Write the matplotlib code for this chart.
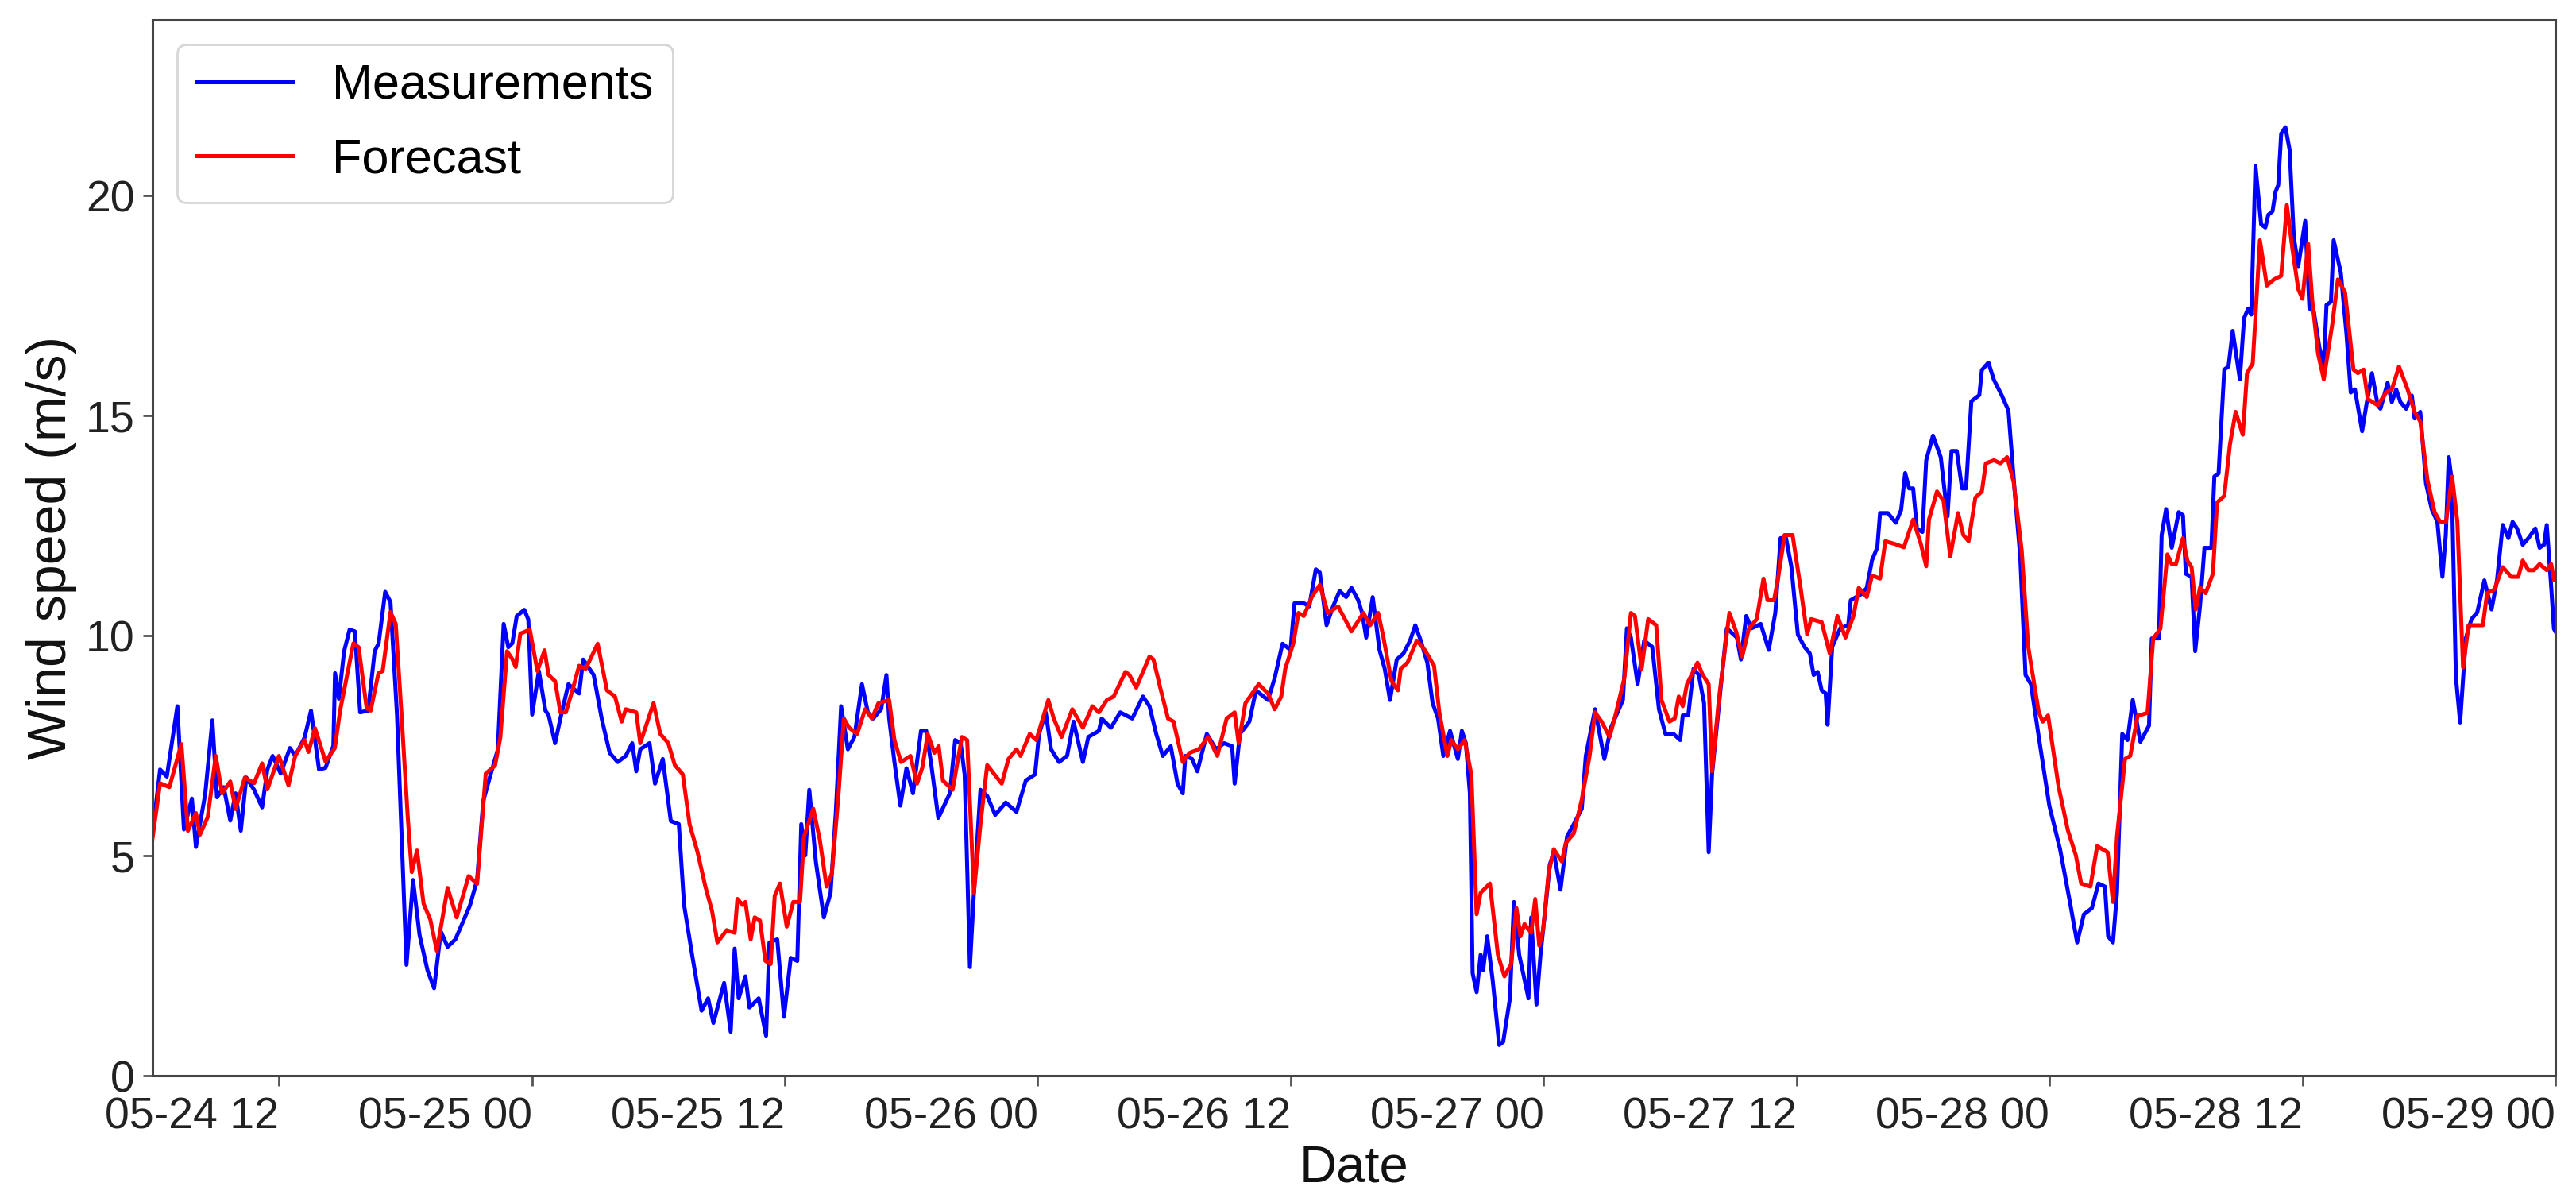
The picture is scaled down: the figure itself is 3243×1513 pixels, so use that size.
import numpy as np
import pandas as pd
import matplotlib
matplotlib.use('Agg')
import matplotlib.pyplot as plt
import matplotlib.dates as mdates

plt.rcParams['font.family'] = ['Liberation Sans', 'DejaVu Sans']

# time axis: hours after 05-24 06:00
start_time = pd.Timestamp('2018-05-24 06:00')
end_time = pd.Timestamp('2018-05-29 00:00')

meas_hours = [
    0.0, 0.36, 0.68, 1.18, 1.49, 1.87, 2.06, 2.5, 2.84, 3.06, 3.38, 3.69, 3.94, 4.19, 4.45, 4.82, 5.2, 5.45, 5.7, 6.08,
    6.52, 6.77, 7.21, 7.52, 7.9, 8.21, 8.58, 8.66, 8.84, 9.09, 9.35, 9.6, 9.85, 10.23, 10.54, 10.73, 11.04, 11.29, 11.6,
    12.05, 12.36, 12.67, 13.05, 13.36, 13.68, 14.0, 14.37, 15.06, 15.4, 15.69, 16.0, 16.38, 16.66, 16.88, 17.07, 17.28,
    17.64, 17.83, 18.01, 18.33, 18.64, 18.79, 19.1, 19.35, 19.73, 20.24, 20.43, 20.93, 21.31, 21.69, 22.07, 22.45, 22.76,
    22.95, 23.14, 23.58, 23.84, 24.21, 24.59, 24.97, 25.22, 25.6, 26.05, 26.36, 26.61, 27.12, 27.43, 27.62, 27.81, 28.13,
    28.32, 28.76, 29.11, 29.27, 29.64, 29.96, 30.28, 30.59, 30.78, 30.97, 31.16, 31.47, 31.85, 32.17, 32.42, 32.67, 32.99,
    33.3, 33.66, 33.94, 34.19, 34.57, 34.82, 34.95, 35.2, 35.48, 35.77, 36.08, 36.46, 36.71, 36.97, 37.28, 37.83, 38.08,
    38.34, 38.53, 38.78, 38.97, 39.28, 39.6, 39.98, 40.48, 40.99, 41.43, 41.87, 42.06, 42.38, 42.63, 43.01, 43.39, 43.7,
    44.14, 44.4, 44.9, 45.03, 45.47, 45.91, 46.48, 46.99, 47.3, 47.62, 47.93, 48.31, 48.63, 48.88, 49.0, 49.32, 49.57,
    50.02, 50.46, 50.84, 51.22, 51.34, 51.59, 52.04, 52.35, 52.92, 53.24, 53.61, 53.99, 54.18, 54.62, 54.88, 55.19, 55.38,
    55.7, 56.01, 56.32, 56.63, 56.88, 57.2, 57.39, 57.58, 57.89, 58.21, 58.46, 58.71, 59.03, 59.35, 59.66, 59.91, 60.17,
    60.48, 60.73, 60.99, 61.24, 61.56, 61.93, 62.12, 62.31, 62.5, 62.63, 62.82, 63.01, 63.13, 63.32, 63.58, 63.89, 64.08,
    64.4, 64.59, 64.84, 65.28, 65.41, 65.66, 65.85, 66.1, 66.29, 66.48, 66.8, 67.11, 67.43, 67.81, 68.0, 68.44, 68.88,
    69.19, 69.76, 69.95, 70.14, 70.46, 70.77, 71.15, 71.47, 71.78, 72.16, 72.48, 72.6, 72.86, 73.11, 73.36, 73.61, 73.83,
    73.99, 74.43, 74.69, 75.01, 75.17, 75.36, 75.61, 75.86, 76.3, 76.68, 76.99, 77.24, 77.5, 77.75, 78.06, 78.37, 78.63,
    78.81, 79.0, 79.19, 79.38, 79.47, 79.69, 80.07, 80.45, 80.57, 81.08, 81.33, 81.58, 81.83, 81.96, 82.33, 82.71, 82.96,
    83.15, 83.34, 83.53, 83.71, 83.97, 84.15, 84.47, 84.84, 85.16, 85.35, 85.6, 85.85, 86.04, 86.29, 86.67, 86.79, 87.1,
    87.36, 87.73, 88.05, 88.36, 88.61, 88.86, 89.12, 89.49, 89.99, 90.5, 90.94, 91.31, 91.63, 92.01, 92.32, 92.63, 92.78,
    93.01, 93.2, 93.45, 93.7, 93.95, 94.31, 94.72, 94.85, 95.19, 95.32, 95.53, 95.8, 96.13, 96.33, 96.47, 96.74, 96.91,
    97.14, 97.35, 97.68, 97.82, 98.02, 98.29, 98.49, 98.69, 99.03, 99.23, 99.43, 99.57, 99.77, 100.04, 100.24, 100.38,
    100.58, 100.72, 100.85, 100.99, 101.19, 101.39, 101.59, 101.8, 102.13, 102.33, 102.54, 102.8, 103.01, 103.14, 103.35,
    103.48, 103.82, 104.09, 104.29, 104.49, 104.83, 105.03, 105.3, 105.57, 105.7, 106.04, 106.24, 106.45, 106.65, 106.92,
    107.19, 107.32, 107.59, 107.86, 108.13, 108.4, 108.64, 108.8, 108.94, 109.08, 109.28, 109.48, 109.75, 110.02, 110.29,
    110.63, 110.97, 111.23, 111.5, 111.77, 111.97, 112.18, 112.45, 112.72, 113.05, 113.25, 113.46, 113.59, 113.8, 113.93,
    114.0]
meas_speed = [
    5.5, 6.96, 6.8, 8.4, 5.6, 6.3, 5.2, 6.4, 8.08, 6.33, 6.56, 5.8, 6.42, 5.57, 6.78, 6.5, 6.1, 6.96, 7.27, 6.87,
    7.45, 7.27, 7.68, 8.3, 6.96, 7.0, 7.5, 9.15, 8.57, 9.65, 10.14, 10.1, 8.26, 8.3, 9.65, 9.83, 11.0, 10.77, 8.2,
    2.52, 4.45, 3.2, 2.39, 1.99, 3.28, 2.93, 3.1, 3.87, 4.45, 6.24, 6.78, 7.41, 10.27, 9.74, 9.83, 10.45,
    10.59, 10.37, 8.21, 9.2, 8.3, 8.2, 7.56, 8.12, 8.9, 8.69, 9.46, 9.11, 8.12, 7.34, 7.13, 7.27, 7.56,
    6.92, 7.42, 7.56, 6.64, 7.2, 5.79, 5.72, 3.88, 2.75, 1.48, 1.76, 1.2, 2.11, 1.0, 2.89, 1.76, 2.26,
    1.55, 1.76, 0.91, 3.03, 3.1, 1.34, 2.68, 2.61, 5.72, 5.01, 6.5, 4.87, 3.6, 4.16, 6.0, 8.4, 7.42,
    7.7, 8.9, 8.26, 8.12, 8.33, 9.11, 8.12, 7.13, 6.14, 6.99, 6.42, 7.84, 7.84, 6.99, 5.86, 6.42, 7.63,
    7.56, 6.85, 2.47, 4.16, 6.5, 6.36, 5.93, 6.21, 6.0, 6.71, 6.85, 7.77, 8.26, 7.42, 7.13, 7.27, 8.05,
    7.13, 7.7, 7.84, 8.12, 7.91, 8.26, 8.12, 8.62, 8.4, 7.77, 7.27, 7.49, 6.64, 6.42, 7.27, 7.2, 6.92,
    7.77, 7.42, 7.56, 7.49, 6.64, 7.77, 8.05, 8.76, 8.54, 9.04, 9.82, 9.68, 10.74, 10.74, 10.67, 11.51, 11.44,
    10.24, 10.67, 11.02, 10.88, 11.09, 10.81, 10.52, 9.96, 10.88, 9.68, 9.25, 8.54, 9.46, 9.6, 9.89, 10.24, 9.89,
    9.39, 8.47, 8.12, 7.27, 7.84, 7.2, 7.84, 7.56, 6.42, 2.33, 1.9, 2.75, 2.4, 3.17, 2.18, 0.7, 0.77,
    1.76, 3.95, 2.75, 1.76, 3.6, 1.62, 2.75, 3.88, 4.8, 5.08, 4.23, 5.44, 5.72, 6.07, 7.27, 8.33, 7.2,
    7.91, 8.54, 10.17, 9.96, 8.9, 9.89, 9.75, 8.33, 7.77, 7.77, 7.63, 8.19, 8.19, 9.25, 9.11, 8.47, 5.08,
    6.85, 8.97, 10.17, 10.03, 9.96, 9.46, 10.45, 10.17, 10.27, 9.68, 10.52, 12.22, 12.22, 11.58, 10.03, 9.75, 9.6,
    9.11, 9.18, 8.76, 8.69, 7.98, 9.75, 10.17, 10.24, 10.81, 10.95, 11.09, 11.72, 12.01, 12.79, 12.79, 12.57, 12.86,
    13.7, 13.35, 13.35, 12.43, 12.36, 13.99, 14.55, 14.06, 12.71, 14.2, 14.2, 13.35, 13.35, 15.33, 15.47, 16.04, 16.21,
    15.82, 15.47, 15.12, 13.21, 11.8, 9.11, 8.9, 7.7, 6.14, 5.15, 4.02, 3.03, 3.67, 3.81, 4.37, 4.3, 3.17,
    3.03, 4.16, 7.77, 7.63, 8.54, 7.59, 7.96, 9.94, 9.94, 12.29, 12.88, 12.0, 12.81, 12.74, 11.41, 11.34, 9.65,
    10.68, 12.0, 12.0, 13.62, 13.69, 16.05, 16.12, 16.93, 15.83, 17.22, 17.44, 17.3, 20.68, 19.35, 19.28, 19.57,
    19.65, 20.09, 20.24, 21.41, 21.56, 21.05, 19.06, 18.4, 19.43, 17.44, 17.37, 16.56, 16.12, 17.52, 17.59,
    18.99, 18.25, 16.85, 15.53, 15.6, 14.65, 15.24, 15.97, 15.24, 15.16, 15.75, 15.31, 15.6, 15.31, 15.16,
    15.46, 14.94, 15.09, 13.47, 12.88, 12.59, 11.34, 12.29, 14.06, 13.55, 9.06, 8.03, 9.94, 10.38, 10.53,
    11.26, 10.6, 11.26, 12.52, 12.22, 12.59, 12.44, 12.07, 12.22, 12.44, 12.0, 12.07, 12.52, 11.12, 10.16,
    10.1]

# forecast wind speed (m/s)
fc_hours = [
    0.0, 0.36, 0.8, 1.37, 1.68, 2.06, 2.25, 2.62, 3.0, 3.3, 3.69, 3.94, 4.38, 4.82, 5.2, 5.45, 6.0, 6.45, 6.77, 7.21,
    7.4, 7.71, 8.21, 8.65, 8.9, 9.53, 9.78, 10.16, 10.35, 10.72, 10.92, 11.29, 11.54, 11.79, 12.11, 12.3, 12.55, 12.86,
    13.18, 13.49, 14.0, 14.43, 15.0, 15.4, 15.81, 16.25, 16.5, 16.82, 17.07, 17.23, 17.45, 17.9, 18.26, 18.6, 18.79,
    19.1, 19.35, 19.61, 19.92, 20.24, 20.55, 21.12, 21.56, 21.94, 22.26, 22.45, 22.95, 23.14, 23.77, 24.09, 24.47,
    24.78, 25.16, 25.48, 25.86, 26.23, 26.55, 26.8, 27.24, 27.62, 27.75, 28.0, 28.13, 28.38, 28.57, 28.82, 29.08,
    29.33, 29.52, 29.77, 30.09, 30.4, 30.72, 30.91, 31.35, 31.66, 31.98, 32.23, 32.55, 32.8, 33.05, 33.43, 33.81,
    34.13, 34.44, 34.95, 35.2, 35.51, 35.96, 36.27, 36.52, 36.78, 37.09, 37.3, 37.5, 37.96, 38.4, 38.65, 38.97,
    39.28, 39.6, 40.29, 40.61, 40.99, 41.18, 41.62, 41.93, 42.5, 42.76, 43.13, 43.64, 44.14, 44.59, 44.9, 45.28,
    45.6, 46.16, 46.35, 46.67, 47.05, 47.3, 47.49, 47.81, 48.18, 48.44, 48.88, 49.2, 49.64, 50.08, 50.52, 50.96,
    51.34, 51.53, 51.85, 52.48, 52.92, 53.24, 53.55, 53.74, 54.12, 54.37, 54.62, 55.0, 55.38, 55.76, 56.25, 56.88,
    57.45, 57.77, 58.15, 58.4, 58.78, 59.09, 59.22, 59.54, 59.98, 60.36, 60.8, 61.05, 61.43, 61.62, 61.93, 62.25,
    62.57, 62.82, 63.01, 63.45, 63.83, 64.14, 64.46, 64.71, 64.9, 65.09, 65.41, 65.6, 65.79, 65.97, 66.23, 66.48,
    66.86, 67.05, 67.43, 67.81, 68.18, 68.44, 68.75, 69.13, 69.44, 69.83, 70.14, 70.33, 70.65, 70.96, 71.34, 71.59,
    71.97, 72.22, 72.41, 72.6, 72.8, 73.3, 73.55, 73.83, 73.99, 74.31, 74.81, 75.13, 75.42, 75.74, 76.11, 76.43,
    76.62, 76.93, 77.12, 77.43, 77.81, 78.19, 78.5, 78.69, 79.19, 79.57, 79.94, 80.32, 80.7, 80.95, 81.33, 81.58,
    81.96, 82.21, 82.71, 83.09, 83.53, 83.9, 84.15, 84.28, 84.66, 84.97, 85.29, 85.66, 85.91, 86.16, 86.48, 86.79,
    86.98, 87.36, 87.67, 87.99, 88.3, 88.68, 88.99, 89.49, 89.68, 89.93, 90.43, 90.87, 91.25, 91.5, 91.94, 92.26,
    92.51, 92.76, 93.01, 93.2, 93.58, 93.83, 94.18, 94.65, 94.92, 95.26, 95.59, 95.8, 96.0, 96.33, 96.54, 96.74,
    96.94, 97.14, 97.41, 97.75, 97.95, 98.29, 98.56, 98.83, 99.17, 99.37, 99.64, 99.98, 100.31, 100.65, 100.99,
    101.26, 101.53, 101.8, 102.0, 102.27, 102.47, 102.74, 103.01, 103.41, 103.68, 104.02, 104.22, 104.42, 104.63,
    104.9, 105.1, 105.57, 105.97, 106.24, 106.58, 106.99, 107.32, 107.59, 107.93, 108.27, 108.53, 108.81, 109.1,
    109.35, 109.62, 109.88, 110.22, 110.56, 110.76, 111.1, 111.5, 111.91, 112.24, 112.45, 112.72, 112.98, 113.25,
    113.59, 113.8, 113.93, 114.0]
fc_speed = [
    5.4, 6.65, 6.56, 7.54, 5.57, 5.97, 5.48, 5.88, 7.27, 6.42, 6.69, 6.06, 6.78, 6.65, 7.1, 6.51, 7.27, 6.6, 7.27, 7.63,
    7.36, 7.9, 7.14, 7.45, 8.3, 9.83, 9.74, 8.35, 8.3, 9.15, 9.2, 10.54, 10.27, 8.39, 5.88, 4.63, 5.12, 3.91,
    3.55, 2.84, 4.27, 3.6, 4.54, 4.36, 6.87, 7.05, 7.68, 9.65, 9.47, 9.29, 10.05, 10.14, 9.2, 9.67, 9.11,
    8.97, 8.26, 8.26, 8.76, 9.32, 9.25, 9.82, 8.76, 8.62, 8.05, 8.33, 8.26, 7.56, 8.47, 7.77, 7.56,
    7.06, 6.85, 5.72, 5.08, 4.3, 3.74, 3.03, 3.31, 3.25, 4.02, 3.88, 3.95, 3.1, 3.6, 3.53, 2.61,
    2.54, 4.09, 4.37, 3.39, 3.95, 3.95, 5.44, 6.07, 5.36, 4.3, 4.59, 6.42, 8.12, 7.91, 7.77, 8.33,
    8.12, 8.47, 8.54, 7.63, 7.13, 7.27, 6.64, 7.0, 7.77, 7.34, 7.49, 6.71, 6.5, 7.7, 7.63, 4.16,
    5.72, 7.06, 6.64, 7.2, 7.42, 7.27, 7.77, 7.63, 8.54, 8.12, 7.7, 8.33, 7.91, 8.4, 8.26, 8.54,
    8.62, 9.18, 9.11, 8.82, 9.25, 9.53, 9.46, 8.82, 8.12, 8.05, 7.13, 7.34, 7.42, 7.7, 7.27, 8.12,
    8.26, 7.56, 8.47, 8.9, 8.69, 8.33, 8.62, 9.25, 9.82, 10.52, 10.45, 10.88, 11.16, 10.52, 10.67, 10.1,
    10.52, 10.24, 10.52, 9.96, 8.97, 8.76, 9.25, 9.39, 9.89, 9.68, 9.32, 8.26, 7.27, 7.63, 7.42, 7.63,
    6.85, 3.67, 4.16, 4.37, 2.75, 2.26, 2.54, 3.81, 3.17, 3.45, 3.25, 4.02, 2.96, 3.31, 4.59, 5.15,
    4.87, 5.29, 5.51, 6.28, 7.27, 8.26, 8.05, 7.7, 8.26, 9.04, 10.52, 10.45, 9.25, 10.38, 10.24, 8.54,
    8.05, 8.12, 8.62, 8.4, 8.9, 9.39, 9.11, 8.9, 6.92, 8.54, 10.52, 10.1, 9.53, 10.17, 10.38, 11.3,
    10.81, 10.81, 11.3, 12.29, 12.29, 11.09, 10.03, 10.38, 10.31, 9.6, 10.45, 9.96, 10.45, 11.09, 10.88, 11.37,
    11.3, 12.15, 12.08, 12.01, 12.64, 12.08, 11.58, 12.64, 13.28, 13.07, 11.8, 12.79, 12.29, 12.15, 13.14, 13.28,
    13.92, 13.99, 13.92, 14.06, 13.49, 11.94, 9.75, 8.26, 8.05, 8.19, 6.57, 5.58, 5.01, 4.37, 4.3, 5.22,
    5.15, 5.08, 3.95, 5.44, 7.2, 7.27, 8.18, 8.25, 9.94, 10.16, 11.85, 11.63, 11.63, 12.22, 11.71, 11.56,
    10.6, 11.1, 10.97, 11.41, 13.03, 13.18, 14.35, 15.09, 14.57, 15.97, 16.19, 18.99, 17.96, 18.1, 18.18,
    19.79, 18.77, 17.88, 17.66, 18.91, 17.59, 16.41, 15.83, 17.07, 18.1, 17.81, 16.93, 16.05, 15.97,
    16.05, 15.38, 15.24, 15.53, 15.6, 16.12, 15.6, 15.09, 14.87, 13.54, 12.81, 12.59, 12.59, 13.62,
    12.59, 9.28, 10.24, 10.24, 10.24, 10.97, 11.05, 11.56, 11.34, 11.34, 11.71, 11.49, 11.49, 11.63,
    11.49, 11.63, 11.27, 11.3]

y_ticks = [0, 5, 10, 15, 20]

meas_time = start_time + pd.to_timedelta(meas_hours, unit='h')
fc_time = start_time + pd.to_timedelta(fc_hours, unit='h')

fig = plt.figure(figsize=(16.215, 7.565), dpi=200)
ax = fig.add_axes([0.0592, 0.105, 0.9328, 0.8785])

ax.plot(meas_time, meas_speed, color='blue', linewidth=1.8, label='Measurements')
ax.plot(fc_time, fc_speed, color='red', linewidth=1.8, label='Forecast')

ax.set_xlim(start_time, end_time)
ax.set_ylim(0, 24)
ax.set_yticks(y_ticks)
ax.xaxis.set_major_locator(mdates.HourLocator(byhour=[0, 12]))
ax.xaxis.set_major_formatter(mdates.DateFormatter('%m-%d %H'))
# labels sit to the left of their ticks, like autofmt_xdate without rotation
for lbl in ax.get_xticklabels():
    lbl.set_horizontalalignment('right')

ax.tick_params(axis='both', labelsize=20, labelcolor='#222222', color='#555555',
               length=4.5, width=1.0, pad=3.5)
ax.tick_params(axis='x', pad=5)
for sp in ax.spines.values():
    sp.set_color('#444444')
    sp.set_linewidth(1.1)

ax.set_xlabel('Date', fontsize=23.5, color='#111111', labelpad=3)
ax.set_ylabel('Wind speed (m/s)', fontsize=24.5, color='#111111', labelpad=4)

leg = ax.legend(loc='upper left', fontsize=22, frameon=True, fancybox=True,
                borderpad=0.4, handlelength=2.0, handletextpad=0.8, labelspacing=0.6)
leg.get_frame().set_edgecolor('#cccccc')
leg.get_frame().set_linewidth(1.0)

fig.savefig('out.png', dpi=200)
